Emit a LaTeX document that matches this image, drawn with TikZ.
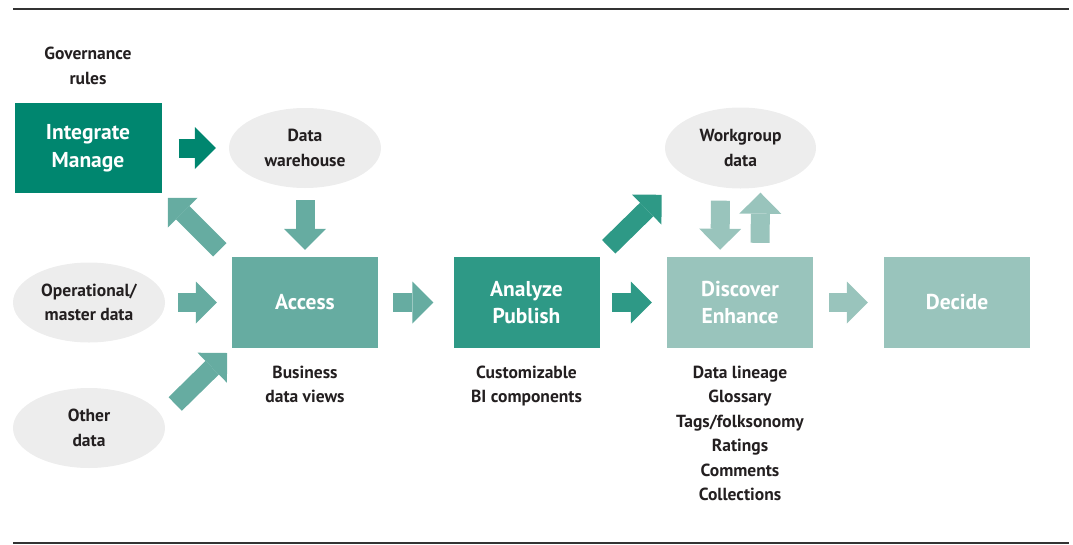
\documentclass[tikz,border=0pt]{standalone}
\usepackage{fontspec}
\setmainfont{PT Sans}
\usetikzlibrary{arrows.meta,positioning,shapes.geometric}
\definecolor{intcol}{HTML}{00866F}
\definecolor{acccol}{HTML}{66ACA1}
\definecolor{anacol}{HTML}{2E9986}
\definecolor{discol}{HTML}{99C4BC}
\definecolor{ellcol}{HTML}{EDEDED}
\definecolor{txtcol}{HTML}{231F20}
\definecolor{rulecol}{HTML}{333333}

\begin{document}
\begin{tikzpicture}[x=1pt,y=-1pt,
    box/.style={rectangle, minimum width=146pt, minimum height=91pt, inner sep=0pt,
      text=white, align=center, font=\bfseries\fontsize{21.5}{27.5}\selectfont},
    blob/.style={ellipse, fill=ellcol, minimum width=152pt, minimum height=80pt, inner sep=0pt,
      text=txtcol, align=center, font=\bfseries\fontsize{17.5}{24.5}\selectfont},
    note/.style={inner sep=0pt, text=txtcol, align=center,
      font=\bfseries\fontsize{17.5}{24.5}\selectfont},
    flow/.style={line width=19pt, -{Triangle[width=42pt,length=21pt,line width=0pt]}}]
    \useasboundingbox (0,0) rectangle (1073,544);
    \draw[rulecol, line width=2pt] (13,8.5) -- (1069,8.5);
    \draw[rulecol, line width=2pt] (13,542.5) -- (1069,542.5);

    \node[box, fill=intcol, minimum width=147pt, minimum height=90pt] (integ) at (88,148) {Integrate\\Manage};
    \node[blob] (dw) at (305,148) {Data\\warehouse};
    \node[blob] (op) at (89,302.5) {Operational/\\master data};
    \node[blob] (oth) at (89,428) {Other\\data};
    \node[box, fill=acccol] (acc) at (305,302.5) {Access};
    \node[box, fill=anacol] (ana) at (526.5,302.5) {Analyze\\Publish};
    \node[blob, minimum width=151pt, minimum height=81pt] (wg) at (740.5,148) {Workgroup\\data};
    \node[box, fill=discol] (disc) at (740,302.5) {Discover\\Enhance};
    \node[box, fill=discol] (dec) at (957,302.5) {Decide};

    \node[note, above=18pt of integ] (gov) {Governance\\rules};
    \node[note, below=17.5pt of acc] (accnote) {Business\\data views};
    \node[note, below=17.5pt of ana] (ananote) {Customizable\\BI components};
    \node[note, below=17.5pt of disc] (discnote) {Data lineage\\Glossary\\Tags/folksonomy\\Ratings\\Comments\\Collections};

    \path[flow]
    (integ) edge[intcol, shorten <=17pt, shorten >=13pt] (dw)
    (op) edge[acccol, shorten <=13pt, shorten >=15pt] (acc)
    (acc) edge[acccol, shorten <=15pt, shorten >=20pt] (ana)
    (ana) edge[anacol, shorten <=12.5pt, shorten >=15pt] (disc)
    (disc) edge[discol, shorten <=16pt, shorten >=16pt] (dec)
    (dw) edge[acccol, shorten <=12pt, shorten >=7pt] (acc)
    ([xshift=-20pt]wg.south) edge[discol, shorten <=12pt, shorten >=7pt] ([xshift=-20pt]disc.north)
    ([xshift=20pt]disc.north) edge[discol, shorten <=14pt, shorten >=4pt] ([xshift=20pt]wg.south);

    \draw[flow, acccol] ([shift={(-12,-7)}]acc.north west) -- ++(-52,-52);
    \draw[flow, acccol] ([shift={(10,-24)}]oth.east) -- ++(52,-51);
    \draw[flow, anacol] ([shift={(9,-10)}]ana.north east) -- ++(53,-52);
\end{tikzpicture}
\end{document}
